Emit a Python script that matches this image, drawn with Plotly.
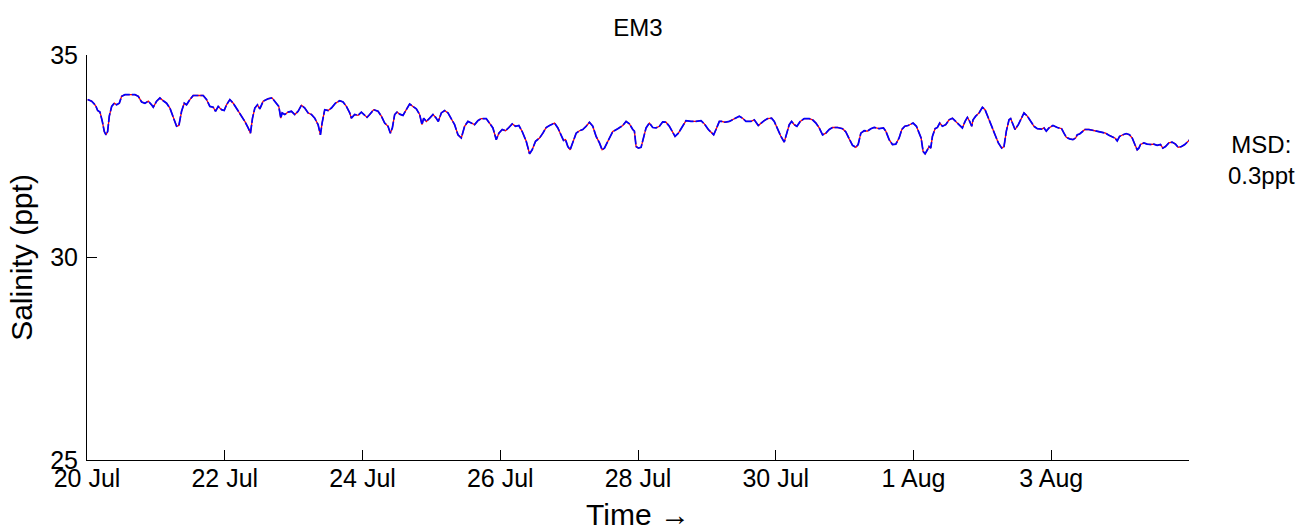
import pandas as pd
import plotly.graph_objects as go

# Hours since 20 Jul 00:00
hours = [
    0.23, 1.6, 2.55, 3.13, 3.71, 4.53, 5.34, 6.03, 6.61, 7.19, 7.77, 8.59, 9.51, 10.33, 11.26,
    12.07, 13.23, 16.71, 17.87, 19.03, 20.19, 21.35, 22.51, 23.09, 24.25, 25.41, 26.57, 27.73,
    28.89, 30.05, 31.21, 32.02, 32.95, 33.88, 34.69, 35.85, 37.01, 40.49, 41.65, 42.82, 43.98,
    44.79, 45.72, 46.88, 47.80, 48.62, 49.78, 50.94, 52.10, 53.26, 55.00, 56.16, 56.97, 57.67,
    58.48, 59.41, 60.22, 61.38, 63.12, 64.51, 66.02, 66.83, 67.53, 67.99, 68.92, 70.08, 71.24,
    72.40, 73.56, 74.72, 75.88, 77.04, 78.20, 79.36, 80.52, 81.34, 81.92, 82.84, 84.00, 85.17,
    86.56, 88.07, 89.23, 90.39, 91.55, 92.13, 93.29, 94.45, 95.61,
    97.58, 98.51, 99.90, 101.41, 102.57, 103.73, 104.89, 105.70, 106.40, 107.21, 108.03, 108.95,
    110.11, 111.27, 112.43, 113.59, 114.76, 115.91, 116.73, 117.31, 118.24, 119.40, 120.56,
    121.48, 122.41, 123.46, 124.62, 125.78, 126.94, 128.10, 129.26, 130.42, 131.58, 132.74,
    133.90, 135.06, 136.22, 137.38, 139.12, 140.28, 141.44, 142.60, 143.53, 144.69, 145.85,
    147.01, 148.17, 149.33, 150.49, 151.65, 153.05, 154.21, 155.13, 156.30, 157.69, 158.85,
    160.01, 161.17, 162.91, 164.07, 165.23, 166.04, 166.74, 167.55, 168.36, 169.29, 170.45,
    171.61, 172.77, 173.93, 175.09, 176.25, 177.41, 178.57, 179.50, 180.31, 181.47, 183.21,
    184.95, 186.69, 187.85, 189.01, 190.18,
    190.75, 191.33, 192.14, 193.07, 194.00, 194.81, 195.97, 197.13, 198.29, 199.45, 200.61,
    201.77, 202.93, 203.75, 204.91, 206.07, 207.57, 208.73, 210.48, 212.22, 213.96, 215.12,
    216.51, 217.67, 218.37, 219.18, 220.34, 221.15, 222.31, 223.82, 225.56, 227.30, 228.46,
    229.62, 231.36, 232.52, 233.91, 234.84, 236.00, 237.16, 238.55, 239.48, 240.64, 241.80,
    242.96, 244.12, 244.70, 245.52, 246.44, 247.37, 248.53, 249.93, 251.67, 252.83, 253.99,
    255.15, 256.31, 257.47, 258.63, 259.79, 261.53, 263.27, 264.43, 265.59, 266.75, 267.91,
    268.72, 269.65, 270.81, 271.97, 273.13, 274.29, 276.03, 277.54, 278.35, 279.51, 280.67,
    281.83, 282.99, 283.92, 284.97, 286.13,
    287.86, 289.02, 289.95, 290.65, 291.34, 292.04, 292.85, 293.43, 294.01, 294.59, 295.52,
    296.33, 297.14, 298.07, 299.23, 300.39, 301.55, 302.71, 303.87, 305.03, 305.96, 306.78,
    307.59, 308.28, 308.75, 309.68, 310.84, 312.00, 312.92, 313.74, 314.55, 315.48, 316.41,
    317.57, 318.73, 319.54, 320.35, 321.28, 321.86, 322.67, 323.37, 324.53, 325.69, 326.50,
    327.66, 328.82, 329.98, 331.14, 332.65, 333.46, 334.28, 335.20, 336.60, 338.11, 339.61,
    340.43, 341.24, 342.40, 343.56, 344.49, 345.07, 345.88, 346.58, 347.74, 349.13, 350.87,
    352.61, 354.93, 356.09, 357.25, 358.18, 358.99, 359.80, 360.96, 362.12, 363.28, 364.21,
    365.14, 365.95, 366.53, 367.11, 368.27, 369.43, 370.59, 371.75, 372.91, 374.07, 374.88,
    375.81, 376.97, 378.13, 379.29, 380.22, 381.38, 382.54, 383.70, 384.51,
]

observed_salinity = [
    33.90, 33.86, 33.79, 33.73, 33.63, 33.59, 33.36, 33.11, 33.03, 33.11, 33.49, 33.73, 33.81, 33.77, 33.81,
    33.98, 34.02, 34.02, 33.98, 33.84, 33.81, 33.86, 33.77, 33.71, 33.86, 33.94, 33.87, 33.81,
    33.69, 33.44, 33.24, 33.26, 33.61, 33.81, 33.77, 33.90, 34.00, 34.00, 33.90, 33.73, 33.71,
    33.61, 33.73, 33.65, 33.63, 33.77, 33.90, 33.81, 33.69, 33.57, 33.36, 33.20, 33.07, 33.44,
    33.69, 33.77, 33.67, 33.86, 33.92, 33.94, 33.81, 33.73, 33.44, 33.57, 33.53, 33.59, 33.61,
    33.53, 33.61, 33.76, 33.69, 33.57, 33.53, 33.44, 33.28, 33.03, 33.32, 33.65, 33.63, 33.69,
    33.81, 33.87, 33.84, 33.73, 33.57, 33.44, 33.53, 33.51, 33.59,
    33.46, 33.53, 33.65, 33.61, 33.49, 33.32, 33.24, 33.07, 33.20, 33.53, 33.59, 33.54,
    33.51, 33.65, 33.79, 33.73, 33.67, 33.53, 33.28, 33.44, 33.36, 33.44, 33.53,
    33.46, 33.36, 33.57, 33.63, 33.57, 33.44, 33.28, 33.03, 32.95, 33.24, 33.36,
    33.32, 33.28, 33.38, 33.43, 33.43, 33.32, 33.20, 32.91, 33.07, 33.16, 33.13,
    33.21, 33.30, 33.24, 33.26, 33.11, 32.87, 32.56, 32.66, 32.87, 32.95, 33.07,
    33.21, 33.26, 33.32, 33.20, 33.03, 32.89, 32.91, 32.74, 32.66, 32.87, 33.07,
    33.13, 33.16, 33.24, 33.34, 33.24, 32.99, 32.83, 32.66, 32.70, 32.87, 33.11,
    33.18, 33.26, 33.36, 33.30, 33.16,
    33.12, 32.74, 32.70, 32.72, 32.95, 33.20, 33.32, 33.21, 33.20, 33.24, 33.35,
    33.34, 33.24, 33.13, 32.99, 33.07, 33.24, 33.38, 33.36, 33.36, 33.38, 33.30,
    33.16, 33.07, 33.03, 33.16, 33.36, 33.36, 33.34, 33.36, 33.43, 33.49, 33.44,
    33.36, 33.36, 33.40, 33.26, 33.32, 33.38, 33.43, 33.44, 33.36, 33.16, 32.99,
    32.85, 33.12, 33.28, 33.36, 33.28, 33.24, 33.36, 33.43, 33.43, 33.40, 33.32,
    33.20, 33.03, 33.07, 33.16, 33.21, 33.21, 33.18, 33.10, 32.93, 32.77, 32.72,
    32.79, 33.07, 33.13, 33.12, 33.18, 33.21, 33.18, 33.20, 33.12, 32.91, 32.79,
    32.80, 32.95, 33.16, 33.24, 33.26,
    33.32, 33.24, 33.07, 32.95, 32.62, 32.56, 32.66, 32.74, 32.70, 32.99, 33.18,
    33.21, 33.32, 33.24, 33.28, 33.40, 33.44, 33.36, 33.28, 33.20, 33.36, 33.46,
    33.36, 33.24, 33.40, 33.49, 33.57, 33.71, 33.65, 33.49, 33.36, 33.20, 33.03,
    32.83, 32.70, 32.74, 33.12, 33.40, 33.43, 33.28, 33.16, 33.28, 33.44, 33.57,
    33.49, 33.36, 33.24, 33.18, 33.17, 33.20, 33.12, 33.20, 33.26, 33.21, 33.18,
    33.07, 32.97, 32.93, 32.91, 32.95, 33.03, 33.05, 33.10, 33.16, 33.16, 33.13,
    33.10, 33.07, 33.02, 32.99, 32.95, 32.88, 32.99, 33.03, 33.06, 33.03, 32.95,
    32.79, 32.66, 32.70, 32.79, 32.83, 32.80, 32.79, 32.80, 32.77, 32.79, 32.70,
    32.74, 32.83, 32.85, 32.80, 32.72, 32.74, 32.79, 32.87, 32.93,
]

# The modelled series overlaps the observations almost exactly in the picture
model_salinity = list(observed_salinity)

start = pd.Timestamp("2012-07-20")
times = start + pd.to_timedelta(hours, unit="h")

tick_dates = ["2012-07-20", "2012-07-22", "2012-07-24", "2012-07-26",
              "2012-07-28", "2012-07-30", "2012-08-01", "2012-08-03"]
tick_labels = ["20 Jul", "22 Jul", "24 Jul", "26 Jul", "28 Jul", "30 Jul", "1 Aug", "3 Aug"]
y_ticks = [25, 30, 35]

FONT = "Liberation Sans, Arial, sans-serif"
FS = 25

fig = go.Figure()
fig.add_trace(go.Scatter(x=times, y=model_salinity, mode="lines",
                         line=dict(color="#ff0000", width=1.3), name="model",
                         showlegend=False))
fig.add_trace(go.Scatter(x=times, y=observed_salinity, mode="lines",
                         line=dict(color="#0000ff", width=1.7, dash="9px,2px"),
                         name="observed", showlegend=False))

fig.add_annotation(text="MSD:<br>0.3ppt", xref="paper", yref="paper",
                   x=1.066, y=0.741, xanchor="center", yanchor="middle",
                   showarrow=False, align="center",
                   font=dict(family=FONT, size=FS - 1, color="black"))

fig.update_layout(
    width=1316, height=531,
    margin=dict(l=87, r=127, t=55, b=71),
    paper_bgcolor="white", plot_bgcolor="white",
    font=dict(family=FONT, size=FS, color="black"),
    title=dict(text="EM3", x=0.5, xref="paper", y=1 - 28 / 531, yref="container",
               xanchor="center", yanchor="middle", font=dict(size=FS - 1)),
    xaxis=dict(range=["2012-07-20", "2012-08-05"], tickvals=tick_dates, ticktext=tick_labels,
               ticks="inside", ticklen=10, tickcolor="black", showline=True,
               linecolor="black", linewidth=1, mirror=False, showgrid=False, zeroline=False,
               automargin=False, ticklabelstandoff=-4,
               title=dict(text="Time →", standoff=13), tickfont=dict(size=FS)),
    yaxis=dict(range=[25, 35], tickvals=y_ticks, ticks="inside", ticklen=10,
               tickcolor="black", showline=True, linecolor="black", linewidth=1,
               mirror=False, showgrid=False, zeroline=False, automargin=False,
               ticklabelstandoff=3,
               title=dict(text="Salinity (ppt)", standoff=8), tickfont=dict(size=FS)),
)

fig.write_html("out.html", config={"displayModeBar": False},
               post_script="document.body.style.margin='0';")
